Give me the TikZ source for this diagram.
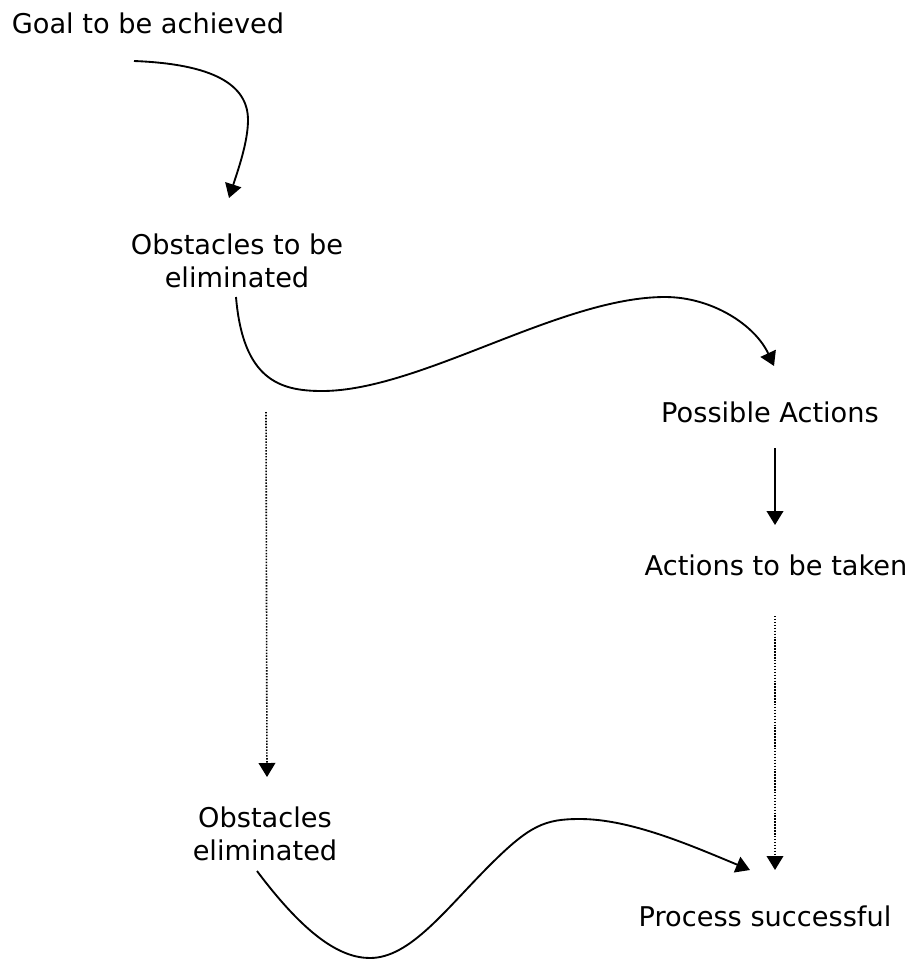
\documentclass[tikz,border=0pt]{standalone}
\usepackage{fontspec}
\setmainfont{DejaVu Sans}
\usetikzlibrary{calc,arrows.meta}
\tikzset{
	lbl/.style={inner sep=0pt, align=center, font=\fontsize{20.4}{24.75}\selectfont},
	arr/.style={line width=1.4pt, -{Triangle[width=12.5pt,length=10.5pt]}},
	dotarr/.style={line width=1.2pt, dash pattern=on 1.1pt off 1.1pt, -{Triangle[width=12.5pt,length=10.5pt]}}
}

\begin{document}
\begin{tikzpicture}[x=0.75pt, y=-0.75pt]
			%%%%% START %%%%%
			\useasboundingbox (0, 0) rectangle (914, 961);
			
			\node[lbl] (goal) at (148, 23) {Goal to be achieved};
			\node[lbl] (obst) at (237, 261) {Obstacles to be\\eliminated};
			\node[lbl] (poss) at (770, 412) {Possible Actions};
			\node[lbl] (act) at (776, 565) {Actions to be taken};
			\node[lbl] (elim) at (265, 834) {Obstacles\\eliminated};
			\node[lbl] (succ) at (765, 916) {Process successful};
			
			\draw[arr] ($(goal)+(-14, 38)$) .. controls (212, 64) and (248, 84) .. (248, 120)
				.. controls (248, 142) and (238, 170) .. ($(obst)+(-8, -63)$);
			
			\draw[arr] ($(obst)+(-1, 36)$) .. controls (243, 380) and (280, 391) .. (322, 391)
				.. controls (420, 391) and (560, 297) .. (665, 297)
				.. controls (712, 297) and (755, 325) .. ($(poss)+(4, -46)$);
			
			\draw[arr] ($(poss)+(5, 36)$) -- ($(act)+(-1, -40)$);
			
			\draw[dotarr] ($(obst)+(29, 151)$) -- ($(elim)+(2, -57)$);
			\draw[dotarr] ($(act)+(-1, 51)$) -- ($(succ)+(10, -46)$);
			
			\draw[arr] ($(elim)+(-8, 37)$) .. controls (305, 935) and (340, 958) .. (370, 958)
				.. controls (410, 958) and (445, 910) .. (490, 865)
				.. controls (530, 825) and (545, 819) .. (580, 819)
				.. controls (630, 819) and (690, 845) .. ($(succ)+(-15, -46)$);
			
			%%%%% END %%%%%
\end{tikzpicture}
\end{document}
